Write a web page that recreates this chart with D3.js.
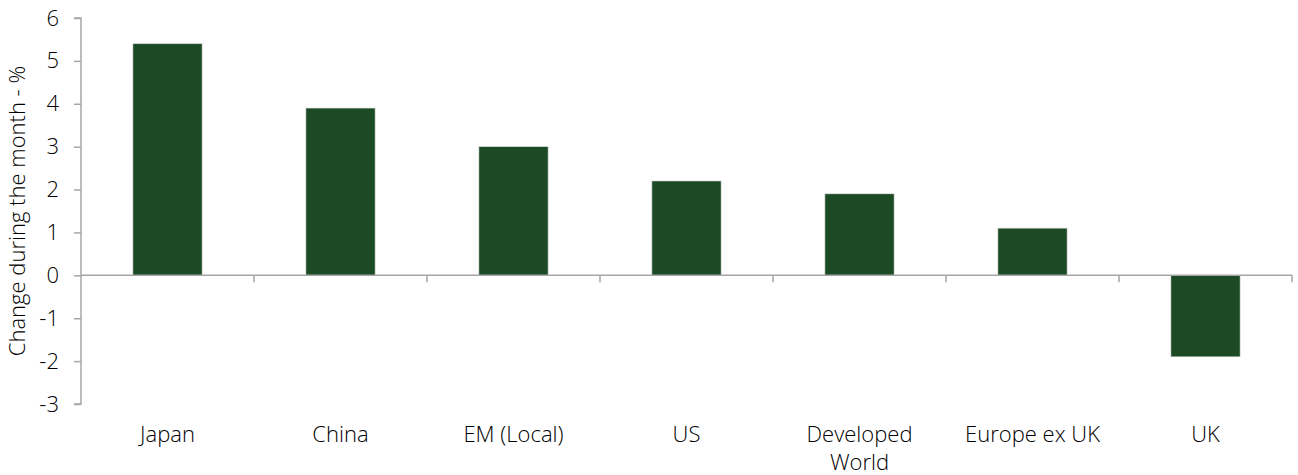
<!DOCTYPE html>
<html><head><meta charset="utf-8">
<script src="https://cdn.jsdelivr.net/npm/d3@7"></script>
<style>body{margin:0;background:#fff}svg text{font-family:"Open Sans",sans-serif;font-weight:300;fill:#000}</style>
</head><body><svg id="c" width="1298" height="475"></svg>
<script>
const categories = ["Japan","China","EM (Local)","US","Developed World","Europe ex UK","UK"];
const values = [5.4,3.9,3.0,2.2,1.9,1.1,-1.9];
const yTicks = [6,5,4,3,2,1,0,-1,-2,-3];
const yLabel = "Change during the month - %";

const svg = d3.select("#c");
const x = d3.scaleBand().domain(categories).range([81,1292]).paddingInner(0.6).paddingOuter(0.3);
const y = d3.scaleLinear().domain([-3,6]).range([404,18]);
const axisColor = "#a6a6a6";
const fs = "22px";

// y axis
const ya = svg.append("g").attr("transform","translate(81,0)")
  .call(d3.axisLeft(y).tickValues(yTicks).tickSize(7).tickPadding(15).tickFormat(d=>String(d)));
ya.select(".domain").attr("stroke",axisColor).attr("stroke-width",1.5).attr("d",`M-7,${y(6)}H0V${y(-3)}H-7`);
ya.selectAll(".tick line").attr("stroke",axisColor).attr("stroke-width",1.5);
ya.selectAll(".tick text").style("font-size",fs).attr("font-family",null);

// bars
svg.append("g").selectAll("rect").data(categories).join("rect")
  .attr("x",d=>x(d)).attr("width",x.bandwidth())
  .attr("y",(d,i)=>y(Math.max(0,values[i])))
  .attr("height",(d,i)=>Math.abs(y(values[i])-y(0)))
  .attr("fill","#1b4a24").attr("stroke","#d9d9d9").attr("stroke-width",0.6);

// x axis at zero
const bounds = d3.range(categories.length+1).map(i=>81+i*(1292-81)/categories.length);
const xa = svg.append("g");
xa.append("line").attr("x1",81).attr("x2",1292).attr("y1",y(0)).attr("y2",y(0)).attr("stroke",axisColor).attr("stroke-width",1.5);
xa.selectAll("line.t").data(bounds.slice(1)).join("line").attr("class","t")
  .attr("x1",d=>d).attr("x2",d=>d).attr("y1",y(0)).attr("y2",y(0)+7)
  .attr("stroke",axisColor).attr("stroke-width",1.5);

// x labels
const lab = svg.append("g").selectAll("text").data(categories).join("text")
  .attr("x",d=>x(d)+x.bandwidth()/2).attr("y",442)
  .attr("text-anchor","middle").style("font-size",fs);
lab.each(function(d){
  const t = d3.select(this);
  const lines = d==="Developed World" ? ["Developed","World"] : [d];
  lines.forEach((l,i)=>t.append("tspan").attr("x",x(d)+x.bandwidth()/2).attr("dy",i?28:0).text(l));
});

// y label
svg.append("text").attr("transform",`translate(25,${(y(6)+y(-3))/2}) rotate(-90)`)
  .attr("text-anchor","middle").style("font-size",fs).text(yLabel);
</script></body></html>
